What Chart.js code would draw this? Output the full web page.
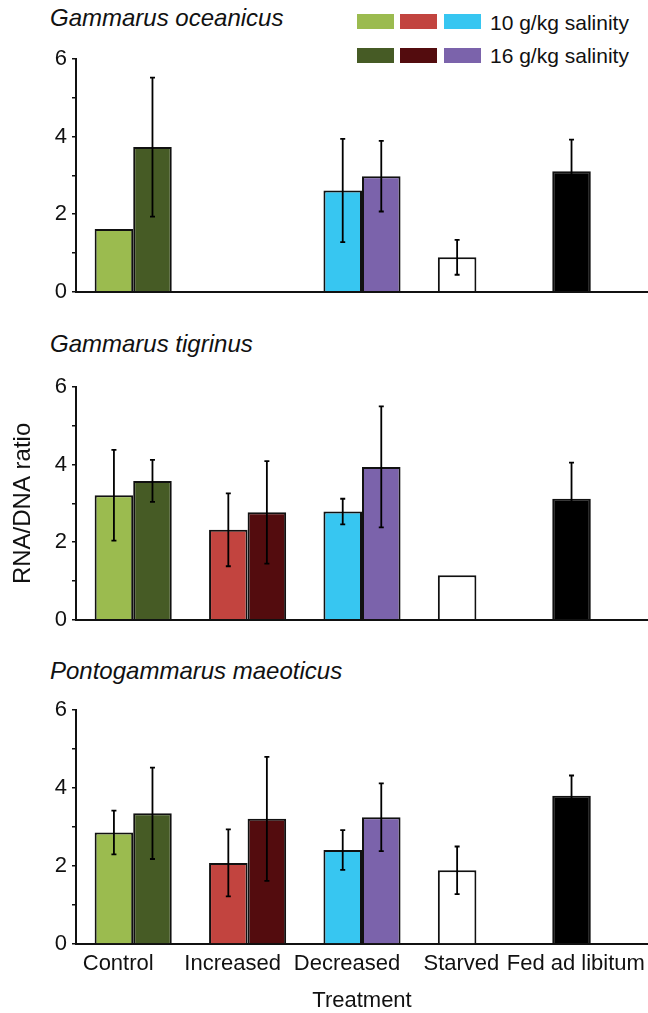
<!DOCTYPE html>
<html>
<head>
<meta charset="utf-8">
<script src="https://cdn.jsdelivr.net/npm/chart.js@4"></script>
<style>
  body { margin: 0; background: #fff; font-family: "Liberation Sans", Arial, sans-serif; }
  #page { position: relative; width: 648px; height: 1013px; overflow: hidden; }
  .panel { position: absolute; left: 0; width: 648px; }
  .title { position: absolute; left: 50px; font-style: italic; font-size: 24px; line-height: 24px; color: #111; }
  .sw { position: absolute; width: 37px; height: 15px; }
  .lg { position: absolute; left: 490px; font-size: 21px; line-height: 21px; color: #111; }
</style>
</head>
<body>
<div id="page">
  <div class="title" style="top:6px">Gammarus oceanicus</div>
  <div class="title" style="top:332px">Gammarus tigrinus</div>
  <div class="title" style="top:659px">Pontogammarus maeoticus</div>
  <div id="legend"></div>
  <div class="panel" style="top:40px;height:270px"><canvas id="c1"></canvas></div>
  <div class="panel" style="top:365px;height:273px"><canvas id="c2"></canvas></div>
  <div class="panel" style="top:690px;height:323px"><canvas id="c3"></canvas></div>
</div>
<script>
const categories = ['Control', 'Increased', 'Decreased', 'Starved', 'Fed ad libitum'];
const yTicks = [0, 2, 4, 6];

// first bar of each group (10 g/kg, starved, fed) and second bar (16 g/kg)
const lowColors = ['#9BBB4F', '#C2443F', '#37C6F1', '#FFFFFF', '#000000'];
const highColors = ['#465B25', '#530C0E', '#7B63AB', '#FFFFFF', '#FFFFFF'];
const legendLabels = ['10 g/kg salinity', '16 g/kg salinity'];

const oceanicus10 = [1.62, null, 2.61, 0.89, 3.11];
const oceanicus10Err = [null, null, 1.33, 0.45, 0.81];
const oceanicus16 = [3.73, null, 2.98, null, null];
const oceanicus16Err = [1.79, null, 0.91, null, null];

const tigrinus10 = [3.21, 2.32, 2.79, 1.15, 3.12];
const tigrinus10Err = [1.17, 0.94, 0.33, null, 0.93];
const tigrinus16 = [3.58, 2.77, 3.94, null, null];
const tigrinus16Err = [0.54, 1.32, 1.56, null, null];

const maeoticus10 = [2.86, 2.08, 2.41, 1.89, 3.80];
const maeoticus10Err = [0.56, 0.86, 0.51, 0.61, 0.52];
const maeoticus16 = [3.35, 3.21, 3.25, null, null];
const maeoticus16Err = [1.17, 1.59, 0.87, null, null];

Chart.defaults.font.family = '"Liberation Sans", Arial, sans-serif';
Chart.defaults.color = '#111';

// legend (html)
const legend = document.getElementById('legend');
const swLeft = [357, 400, 444];
[lowColors, highColors].forEach((cols, row) => {
  for (let i = 0; i < 3; i++) {
    const d = document.createElement('div');
    d.className = 'sw';
    d.style.left = swLeft[i] + 'px';
    d.style.top = (14 + row * 34) + 'px';
    d.style.background = cols[i];
    legend.appendChild(d);
  }
  const t = document.createElement('div');
  t.className = 'lg';
  t.style.top = (12 + row * 33) + 'px';
  t.textContent = legendLabels[row];
  legend.appendChild(t);
});

// error bars drawn from the bar elements and the y scale
const errorBars = {
  id: 'errorBars',
  afterDatasetsDraw(chart) {
    const ctx = chart.ctx;
    const y = chart.scales.y;
    ctx.save();
    ctx.strokeStyle = '#000';
    ctx.lineWidth = 1.8;
    chart.data.datasets.forEach((ds, i) => {
      const meta = chart.getDatasetMeta(i);
      meta.data.forEach((bar, j) => {
        const v = ds.data[j], e = ds.errors[j];
        if (v == null || e == null) return;
        const top = y.getPixelForValue(v + e);
        const bot = y.getPixelForValue(v - e);
        ctx.beginPath();
        ctx.moveTo(bar.x, top); ctx.lineTo(bar.x, bot);
        ctx.moveTo(bar.x - 2.5, top); ctx.lineTo(bar.x + 2.5, top);
        ctx.moveTo(bar.x - 2.5, bot); ctx.lineTo(bar.x + 2.5, bot);
        ctx.stroke();
      });
    });
    ctx.restore();
  }
};

function makeChart(id, low, lowErr, high, highErr, opts) {
  return new Chart(document.getElementById(id), {
    type: 'bar',
    data: {
      labels: categories,
      datasets: [
        { label: legendLabels[0], data: low, errors: lowErr, backgroundColor: lowColors },
        { label: legendLabels[1], data: high, errors: highErr, backgroundColor: highColors }
      ]
    },
    options: {
      responsive: true,
      maintainAspectRatio: false,
      animation: false,
      layout: { padding: { top: opts.padTop, bottom: opts.padBottom, left: 0, right: 0 } },
      datasets: {
        bar: { borderColor: '#111', borderWidth: 2, barPercentage: 1, categoryPercentage: 0.674 }
      },
      plugins: { legend: { display: false }, tooltip: { enabled: false } },
      scales: {
        x: {
          z: 1,
          grid: { display: false, drawTicks: false },
          border: { color: '#111', width: 2 },
          ticks: { display: opts.xLabels, font: { size: 22 }, padding: 7, labelOffset: -15, maxRotation: 0, autoSkip: false },
          title: { display: opts.xLabels, text: 'Treatment', font: { size: 22, lineHeight: 1 }, padding: { top: 0, bottom: 1 } },
          afterFit: s => {
            s.paddingLeft = 0;
            s.paddingRight = 0;
            if (opts.xLabels) s.height = 69;
          }
        },
        y: {
          min: 0,
          max: 6,
          grid: { drawOnChartArea: false, drawTicks: true, tickLength: 4, color: '#111', lineWidth: 1.5 },
          border: { color: '#111', width: 2 },
          ticks: {
            stepSize: 1,
            padding: 5,
            font: { size: 22 },
            callback: v => yTicks.includes(v) ? v : ''
          },
          title: { display: opts.yTitle, text: 'RNA/DNA ratio', font: { size: 24, lineHeight: 1 }, padding: { top: 11, bottom: 0 } },
          afterFit: s => { s.width = 76; }
        }
      }
    },
    plugins: [errorBars]
  });
}

makeChart('c1', oceanicus10, oceanicus10Err, oceanicus16, oceanicus16Err, { padTop: 19, padBottom: 17, xLabels: false, yTitle: false });
makeChart('c2', tigrinus10, tigrinus10Err, tigrinus16, tigrinus16Err, { padTop: 22, padBottom: 17, xLabels: false, yTitle: true });
makeChart('c3', maeoticus10, maeoticus10Err, maeoticus16, maeoticus16Err, { padTop: 20, padBottom: 0, xLabels: true, yTitle: false });
</script>
</body>
</html>
